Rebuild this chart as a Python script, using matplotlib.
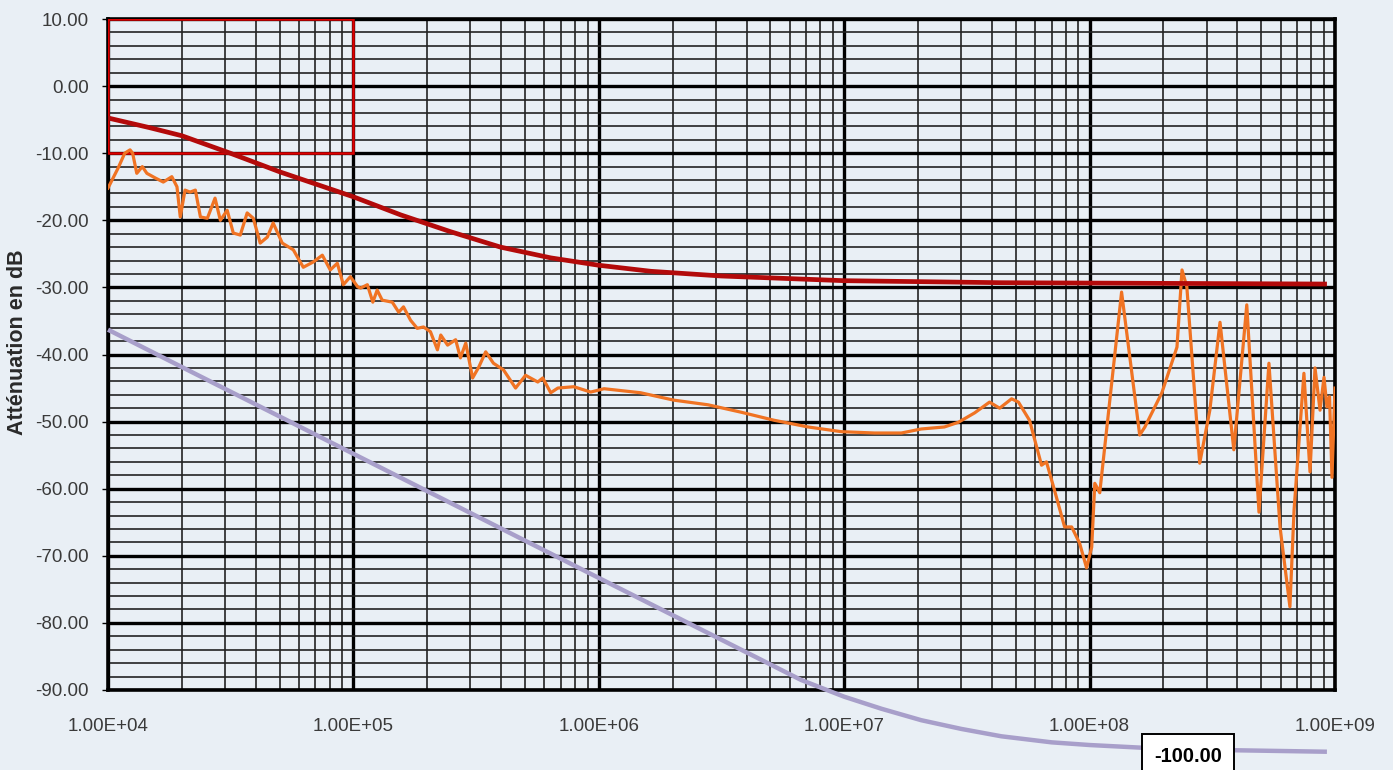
import matplotlib

matplotlib.use("Agg")
import matplotlib.pyplot as plt
from matplotlib.patches import Rectangle
from matplotlib.ticker import FixedLocator, FuncFormatter, LogLocator, MultipleLocator

# measured attenuation (orange)
meas_freq = [
    1.00e4, 1.10e4, 1.17e4, 1.23e4, 1.26e4, 1.31e4, 1.38e4, 1.44e4, 1.56e4, 1.68e4,
    1.82e4, 1.91e4, 1.97e4, 2.06e4, 2.16e4, 2.27e4, 2.38e4, 2.54e4, 2.73e4, 2.87e4,
    3.06e4, 3.24e4, 3.46e4, 3.69e4, 3.91e4, 4.17e4, 4.46e4, 4.71e4, 5.13e4, 5.69e4,
    6.25e4, 6.87e4, 7.47e4, 8.05e4, 8.60e4, 9.10e4, 9.72e4, 1.04e5, 1.07e5, 1.14e5,
    1.20e5, 1.25e5, 1.31e5, 1.44e5, 1.53e5, 1.60e5, 1.71e5, 1.82e5, 1.93e5, 2.06e5,
    2.20e5, 2.27e5, 2.42e5, 2.61e5, 2.73e5, 2.87e5, 3.06e5, 3.24e5, 3.46e5, 3.72e5,
    4.09e5, 4.58e5, 5.03e5, 5.64e5, 5.91e5, 6.37e5, 6.81e5, 7.91e5, 9.27e5, 1.05e6,
    1.48e6, 2.02e6, 2.79e6, 3.80e6, 5.18e6, 7.13e6, 9.73e6, 1.33e7, 1.71e7, 2.06e7,
    2.56e7, 2.92e7, 3.40e7, 3.91e7, 4.30e7, 4.81e7, 5.13e7, 5.69e7, 6.37e7, 6.67e7,
    7.19e7, 7.91e7, 8.45e7, 9.10e7, 9.72e7, 1.02e8, 1.05e8, 1.10e8, 1.35e8, 1.60e8,
    1.68e8, 1.97e8, 2.27e8, 2.38e8, 2.49e8, 2.81e8, 3.09e8, 3.40e8, 3.87e8, 4.37e8,
    4.90e8, 5.38e8, 5.97e8, 6.55e8, 6.81e8, 7.47e8, 7.91e8, 8.29e8, 8.69e8, 9.02e8,
    9.27e8, 9.50e8, 9.72e8, 1.00e9,
]
meas_db = [
    -15.2, -12.2, -10.0, -9.5, -10.0, -13.0, -12.0, -13.0, -13.7, -14.3,
    -13.5, -15.0, -19.5, -15.5, -15.8, -15.5, -19.5, -19.7, -16.7, -20.0,
    -18.5, -21.9, -22.2, -18.9, -19.7, -23.4, -22.5, -20.4, -23.4, -24.4,
    -27.0, -26.2, -25.2, -27.4, -26.4, -29.6, -28.4, -29.9, -30.1, -29.6,
    -32.2, -30.4, -31.9, -32.2, -33.7, -32.9, -34.9, -36.1, -35.9, -36.6,
    -39.3, -37.1, -38.6, -37.8, -40.5, -38.3, -43.5, -41.9, -39.6, -41.3,
    -42.3, -45.0, -43.1, -44.1, -43.5, -45.7, -45.0, -44.8, -45.6, -45.1,
    -45.7, -46.8, -47.5, -48.6, -49.8, -50.8, -51.5, -51.7, -51.7, -51.1,
    -50.8, -50.1, -48.7, -47.1, -48.0, -46.6, -47.1, -49.8, -56.5, -56.0,
    -60.2, -65.7, -65.7, -68.1, -71.8, -68.7, -59.2, -60.6, -30.7, -52.0,
    -50.8, -45.7, -38.9, -27.4, -29.9, -56.2, -48.3, -35.2, -54.2, -32.6,
    -63.5, -41.3, -65.7, -77.6, -63.2, -42.8, -57.5, -42.0, -48.3, -43.4,
    -47.8, -46.3, -58.3, -45.0,
]

# limit curve (dark red)
limit_freq = [1.0e4, 1.48e4, 2.0e4, 3.15e4, 5.03e4, 1.0e5, 1.56e5, 2.49e5, 3.98e5,
              6.37e5, 1.0e6, 1.63e6, 3.15e6, 1.0e7, 4.37e7, 9.27e8]
limit_db = [-4.75, -6.2, -7.4, -10.0, -12.8, -16.5, -19.2, -21.7, -24.0,
            -25.6, -26.7, -27.6, -28.3, -29.0, -29.3, -29.5]

# model curve (lavender)
model_freq = [1.0e4, 1.0e5, 1.0e6, 4.59e6, 6.67e6, 1.0e7, 1.42e7, 2.06e7, 3.0e7,
              4.37e7, 7.0e7, 1.0e8, 1.63e8, 2.86e8, 9.27e8]
model_db = [-36.3, -54.8, -73.3, -85.5, -88.5, -91.0, -92.8, -94.5, -95.8,
            -96.9, -97.8, -98.2, -98.6, -98.9, -99.2]
model_label = "-100.00"

# red frame in the upper-left decade
frame_freq = (1.0e4, 1.0e5)
frame_db = (-10.0, 10.0)

x_ticks = [1e4, 1e5, 1e6, 1e7, 1e8, 1e9]
y_ticks = list(range(-90, 11, 10))

BG = "#e9eff5"

plt.rcParams["font.family"] = ["Liberation Sans", "DejaVu Sans"]

fig = plt.figure(figsize=(13.93, 7.70), dpi=100, facecolor=BG)
ax = fig.add_axes([108 / 1393, 1 - 690 / 770, 1227 / 1393, 671 / 770])
ax.set_facecolor(BG)

ax.set_xscale("log")
ax.set_xlim(1e4, 1e9)
ax.set_ylim(-90, 10)

ax.xaxis.set_major_locator(FixedLocator(x_ticks))
ax.xaxis.set_minor_locator(LogLocator(base=10, subs=range(2, 10), numticks=20))
ax.yaxis.set_major_locator(FixedLocator(y_ticks))
ax.yaxis.set_minor_locator(MultipleLocator(2))
ax.xaxis.set_major_formatter(FuncFormatter(lambda v, p: f"{v:.2E}"))
ax.yaxis.set_major_formatter(FuncFormatter(lambda v, p: f"{v:.2f}"))
ax.xaxis.set_minor_formatter(FuncFormatter(lambda v, p: ""))

ax.grid(True, which="major", color="black", linewidth=2.4, zorder=1)
ax.grid(True, which="minor", color="#222222", linewidth=1.2, zorder=1)
ax.set_axisbelow(True)
for s in ax.spines.values():
    s.set_linewidth(2.6)
    s.set_color("black")

ax.tick_params(axis="x", which="both", length=0, pad=20, labelsize=13.5, labelcolor="#3a3a3a")
ax.tick_params(axis="y", which="major", length=4, width=1, pad=10, labelsize=13.5, labelcolor="#3a3a3a")
ax.tick_params(axis="y", which="minor", length=0)

ax.add_patch(
    Rectangle(
        (frame_freq[0], frame_db[0]),
        frame_freq[1] - frame_freq[0],
        frame_db[1] - frame_db[0],
        fill=False,
        edgecolor="#dd0000",
        linewidth=1.8,
        zorder=3,
    )
)

ax.plot(meas_freq, meas_db, color="#f07323", linewidth=2.3, zorder=4)
ax.plot(limit_freq, limit_db, color="#b30a0a", linewidth=3.4, zorder=5,
        solid_capstyle="butt")
ax.plot(model_freq, model_db, color="#a89fca", linewidth=3.2, zorder=5,
        clip_on=False, solid_capstyle="butt")

fig.text(1188 / 1393, 1 - 756 / 770, model_label, ha="center", va="center",
         fontsize=14.5, fontweight="bold", color="black",
         bbox=dict(boxstyle="square,pad=0.6", facecolor="white",
                   edgecolor="black", linewidth=1.4))

fig.text(18 / 1393, 1 - 342 / 770, "Atténuation en dB", rotation=90,
         ha="center", va="center", fontsize=15.5, fontweight="bold", color="#2a2a2a")

fig.savefig("out.png", dpi=100, facecolor=BG)
